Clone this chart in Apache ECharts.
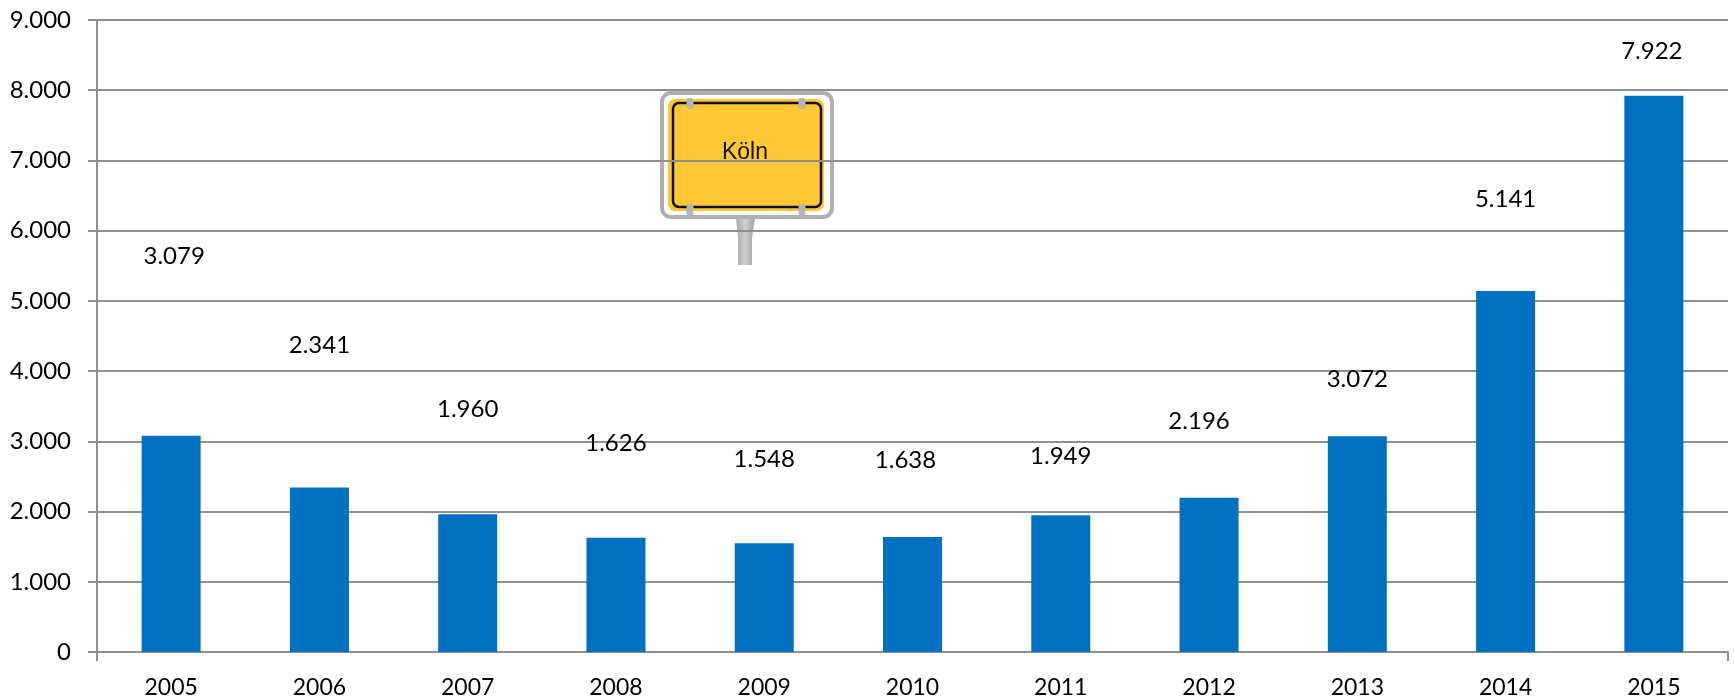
<!DOCTYPE html>
<html>
<head>
<meta charset="utf-8">
<script src="https://cdn.jsdelivr.net/npm/echarts@6/dist/echarts.min.js"></script>
<style>
  html, body { margin: 0; padding: 0; background: #fff; }
  #chart { width: 1735px; height: 699px; }
</style>
</head>
<body>
<div id="chart"></div>
<script>
const years = ["2005", "2006", "2007", "2008", "2009", "2010", "2011", "2012", "2013", "2014", "2015"];
const values = [3079, 2341, 1960, 1626, 1548, 1638, 1949, 2196, 3072, 5141, 7922];

// the labels float above the bars by hand in the original, px above the bar top / px sideways
const labelLift = [168, 130, 93, 83, 72, 65, 47, 65, 45, 80, 32];
const labelShift = [3, 0, 0, 0, 0, -7, 0, -10, 0, 0, -2];

const fontFamily = "Lato, 'Open Sans', sans-serif";
const textColor = "#000";
const lineColor = "#8f8f8f";

// german thousands separator
const fmt = (v) => String(v).replace(/\B(?=(\d{3})+$)/g, ".");

const clips = [[690, 98], [802, 98], [690, 204], [802, 204]];

const sign = [
  // post
  {
    type: "polygon",
    shape: { points: [[736, 218], [755, 218], [752, 238], [752, 265], [738, 265], [738, 238]] },
    style: {
      fill: new echarts.graphic.LinearGradient(0, 0, 1, 0, [
        { offset: 0, color: "#a8a8a8" },
        { offset: 0.5, color: "#cfcfcf" },
        { offset: 1, color: "#a0a0a0" },
      ]),
    },
  },
  // frame
  {
    type: "rect",
    shape: { x: 662, y: 93, width: 170, height: 124, r: 9 },
    style: { fill: "#fff", stroke: "#b0b0b0", lineWidth: 4 },
  },
  // yellow plate
  {
    type: "rect",
    shape: { x: 668, y: 99, width: 156, height: 112, r: 7 },
    style: { fill: "#ffc733" },
  },
  // black border
  {
    type: "rect",
    shape: { x: 673, y: 103, width: 148, height: 104, r: 6 },
    style: { fill: "#ffc733", stroke: "#111", lineWidth: 2.5 },
  },
  ...clips.map(([x, y]) => ({
    type: "rect",
    shape: { x: x - 3.5, y, width: 7, height: 11, r: 2 },
    style: { fill: "#b4b4b4" },
  })),
  {
    type: "text",
    x: 745,
    y: 153,
    style: {
      text: "Köln",
      fontFamily: "'Liberation Sans', Arial, sans-serif",
      fontSize: 23,
      fill: "#111",
      align: "center",
      verticalAlign: "middle",
    },
  },
];

const chart = echarts.init(document.getElementById("chart"));

chart.setOption({
  animation: false,
  backgroundColor: "#fff",
  graphic: { z: -1, elements: sign },
  grid: { left: 97, right: 7, top: 20, bottom: 47 },
  xAxis: {
    type: "category",
    data: years,
    axisLine: { lineStyle: { color: lineColor, width: 2 } },
    axisTick: { show: true, interval: (i) => i === 0, length: 9, lineStyle: { color: lineColor, width: 2 } },
    axisLabel: { color: textColor, fontFamily, fontSize: 23, margin: 24 },
  },
  yAxis: {
    type: "value",
    min: 0,
    max: 9000,
    interval: 1000,
    axisLine: { show: true, lineStyle: { color: lineColor, width: 2 } },
    axisTick: { show: true, length: 9, lineStyle: { color: lineColor, width: 2 } },
    axisLabel: { color: textColor, fontFamily, fontSize: 24, margin: 26, formatter: fmt },
    splitLine: { lineStyle: { color: lineColor, width: 2 } },
  },
  series: [
    {
      type: "bar",
      barWidth: 59,
      itemStyle: { color: "#0070c0" },
      data: values.map((v, i) => ({
        value: v,
        label: { offset: [labelShift[i], -labelLift[i]] },
      })),
      label: {
        show: true,
        position: "top",
        distance: 0,
        color: textColor,
        fontFamily,
        fontSize: 24,
        formatter: (p) => fmt(p.value),
      },
    },
  ],
});
</script>
</body>
</html>
